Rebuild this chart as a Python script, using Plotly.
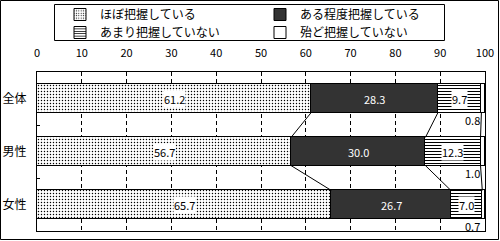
import plotly.graph_objects as go

categories = ["全体", "男性", "女性"]
series_names = ["ほぼ把握している", "ある程度把握している", "あまり把握していない", "殆ど把握していない"]
v_almost = [61.2, 56.7, 65.7]
v_some = [28.3, 30.0, 26.7]
v_little = [9.7, 12.3, 7.0]
v_none = [0.8, 1.0, 0.7]
x_ticks = [0, 10, 20, 30, 40, 50, 60, 70, 80, 90, 100]

series = [v_almost, v_some, v_little, v_none]
ypos = list(range(len(categories)))
BW = 0.53
JP = "Noto Sans CJK JP"

styles = [
    dict(color="white", pattern=dict(shape=".", fgcolor="black", bgcolor="white", size=3, solidity=0.18, fillmode="replace")),
    dict(color="#333333"),
    dict(color="white", pattern=dict(shape="-", fgcolor="black", bgcolor="white", size=3, solidity=0.34, fillmode="replace")),
    dict(color="white"),
]
legend_ids = ["legend", "legend", "legend2", "legend2"]

fig = go.Figure()
for name, vals, st, lg in zip(series_names, series, styles, legend_ids):
    fig.add_trace(go.Bar(
        y=ypos, x=vals, name=name, orientation="h", width=BW,
        marker=dict(line=dict(color="black", width=1), **st),
        hoverinfo="skip", legend=lg,
    ))

# cumulative boundaries
cums = []
for i in range(len(categories)):
    c = 0
    row = []
    for s in series:
        c += s[i]
        row.append(c)
    cums.append(row)

annotations = []
for i in range(len(categories)):
    starts = [0] + cums[i][:-1]
    for k, s in enumerate(series):
        v = s[i]
        mid = starts[k] + v / 2
        if k == 0 or k == 2:
            annotations.append(dict(x=mid, y=ypos[i], text=f"{v:.1f}", showarrow=False,
                                    bgcolor="white", borderpad=0,
                                    font=dict(family=JP, size=11, color="black")))
        elif k == 1:
            annotations.append(dict(x=mid, y=ypos[i], text=f"{v:.1f}", showarrow=False,
                                    font=dict(family=JP, size=11, color="white")))
        else:
            annotations.append(dict(x=99.3, y=ypos[i] + 0.4, text=f"{v:.1f}", showarrow=False,
                                    xanchor="right", yanchor="middle",
                                    font=dict(family=JP, size=11, color="black")))

shapes = []
for i in range(len(categories) - 1):
    for k in range(3):
        shapes.append(dict(type="line", xref="x", yref="y",
                           x0=cums[i][k], y0=ypos[i] + BW / 2,
                           x1=cums[i + 1][k], y1=ypos[i + 1] - BW / 2,
                           line=dict(color="black", width=1), layer="above"))

L, R, T, B = 37, 15, 72, 10
W, H = 500, 241
pw, ph = W - L - R, H - T - B


def px_x(p):
    return (p - L) / pw


def px_y(p):
    return (H - B - p) / ph


# outer border
shapes.append(dict(type="rect", xref="paper", yref="paper",
                   x0=px_x(0.5), x1=px_x(W - 1.5), y0=px_y(H - 1.5), y1=px_y(0.5),
                   line=dict(color="black", width=1), fillcolor="rgba(0,0,0,0)", layer="below"))
# legend frame
shapes.append(dict(type="rect", xref="paper", yref="paper",
                   x0=px_x(54.5), x1=px_x(444.5), y0=px_y(40.5), y1=px_y(4.5),
                   line=dict(color="black", width=1), fillcolor="white", layer="below"))

leg_common = dict(orientation="h", xanchor="left", yanchor="top",
                  borderwidth=0, bgcolor="rgba(0,0,0,0)",
                  entrywidth=155, entrywidthmode="pixels", itemwidth=30,
                  traceorder="normal", tracegroupgap=0,
                  font=dict(family=JP, size=12, color="black"))

fig.update_layout(
    width=W, height=H, margin=dict(l=L, r=R, t=T, b=B, autoexpand=False),
    barmode="stack", bargap=0,
    paper_bgcolor="white", plot_bgcolor="white",
    showlegend=True,
    legend=dict(x=px_x(60), y=px_y(0), **leg_common),
    legend2=dict(x=px_x(60), y=px_y(18), **leg_common),
    xaxis=dict(side="top", range=[0, 100], tickvals=x_ticks, ticktext=[str(t) for t in x_ticks],
               showgrid=True, gridcolor="black", gridwidth=1, griddash="4px,3px",
               showline=True, linecolor="black", linewidth=1, mirror=True,
               ticks="", ticklabelstandoff=10, zeroline=False,
               tickfont=dict(family=JP, size=11, color="black"), fixedrange=True),
    yaxis=dict(range=[len(categories) - 0.5, -0.5], tickvals=ypos, ticktext=categories,
               showgrid=False, showline=True, linecolor="black", linewidth=1, mirror=True,
               ticks="", ticklabelstandoff=7, zeroline=False,
               minor=dict(tickvals=[0.5, 1.5], ticks="inside", ticklen=3, tickcolor="black", tickwidth=1),
               tickfont=dict(family=JP, size=12, color="black"), fixedrange=True),
    annotations=annotations, shapes=shapes,
)

fig.write_html("out.html")
